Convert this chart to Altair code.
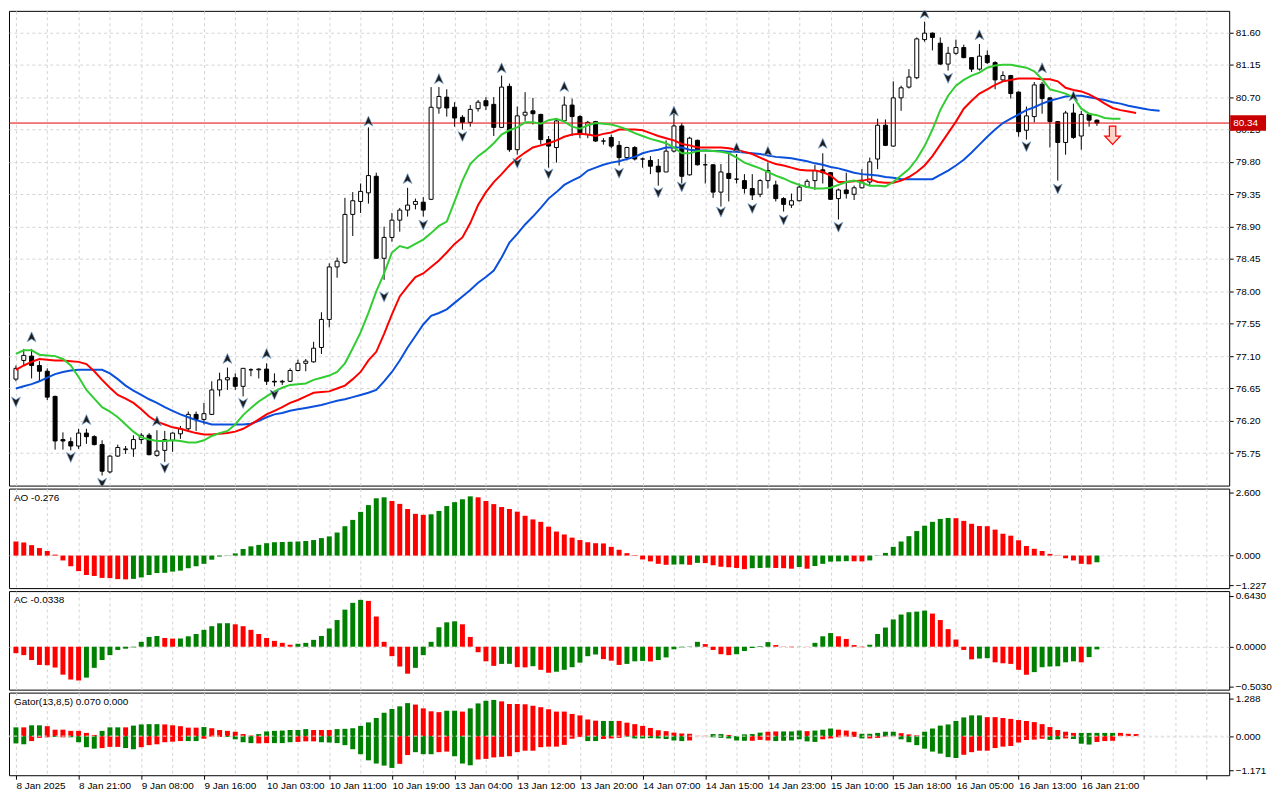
import json
import altair as alt
import pandas as pd

# hourly candles, bar 0 = 8 Jan 2025 13:00
OPEN = [76.78, 77.04, 77.10, 76.97, 76.89, 76.54, 75.94, 75.91, 75.85, 76.03,
        75.98, 75.87, 75.49, 75.71, 75.80, 75.81, 75.94, 76.00, 75.72, 75.79,
        75.93, 76.02, 76.09, 76.29, 76.22, 76.29, 76.63, 76.77, 76.80, 76.68,
        76.91, 76.91, 76.92, 76.75, 76.74, 76.75, 76.90, 77.00, 77.02, 77.22,
        77.61, 78.34, 78.40, 79.07, 79.25, 79.37, 79.60, 78.46, 78.75, 78.99,
        79.13, 79.21, 79.24, 79.28, 80.55, 80.70, 80.56, 80.42, 80.35, 80.54,
        80.65, 80.60, 80.28, 80.85, 79.97, 80.45, 80.51, 80.46, 80.11, 80.00,
        80.37, 80.59, 80.43, 80.18, 80.36, 80.09, 80.14, 80.03, 79.86, 80.00,
        79.84, 79.82, 79.74, 79.66, 79.95, 80.30, 79.62, 80.10, 79.76, 79.76,
        79.38, 79.64, 79.56, 79.54, 79.43, 79.35, 79.54, 79.48, 79.29, 79.20,
        79.26, 79.45, 79.54, 79.69, 79.65, 79.29, 79.41, 79.35, 79.44, 79.52,
        79.84, 80.31, 80.02, 80.69, 80.84, 80.97, 81.50, 81.59, 81.45, 81.16,
        81.31, 81.39, 81.25, 81.09, 81.28, 81.18, 80.94, 81.00, 80.77, 80.24,
        80.43, 80.88, 80.69, 80.36, 80.07, 80.48, 80.16, 80.46, 80.38]
HIGH = [76.97, 77.20, 77.20, 77.03, 76.93, 76.55, 76.04, 75.97, 76.09, 76.09,
        76.00, 75.93, 75.72, 75.87, 75.85, 76.00, 76.03, 76.03, 76.07, 76.06,
        76.04, 76.13, 76.33, 76.33, 76.45, 76.75, 76.87, 76.94, 76.86, 76.93,
        76.93, 76.93, 77.00, 76.86, 76.77, 76.93, 77.05, 77.06, 77.30, 77.71,
        78.39, 78.47, 79.30, 79.38, 79.50, 80.28, 79.65, 78.90, 79.09, 79.16,
        79.44, 79.29, 79.31, 80.84, 80.84, 80.81, 80.63, 80.45, 80.59, 80.66,
        80.70, 80.70, 81.00, 80.89, 80.57, 80.77, 80.69, 80.47, 80.16, 80.40,
        80.71, 80.68, 80.45, 80.37, 80.37, 80.13, 80.18, 80.09, 80.01, 80.02,
        79.86, 79.88, 79.84, 80.10, 80.47, 80.34, 80.15, 80.11, 79.91, 79.77,
        79.77, 79.92, 79.91, 79.63, 79.63, 79.56, 79.79, 79.54, 79.31, 79.36,
        79.50, 79.56, 79.76, 79.92, 79.66, 79.43, 79.65, 79.47, 79.70, 79.86,
        80.40, 80.39, 80.92, 80.86, 81.09, 81.53, 81.75, 81.60, 81.53, 81.40,
        81.50, 81.43, 81.25, 81.44, 81.35, 81.20, 81.06, 81.01, 80.78, 80.57,
        80.91, 80.91, 80.70, 80.36, 80.51, 80.61, 80.51, 80.47, 80.39]
LOW = [76.75, 76.97, 76.79, 76.75, 76.49, 75.80, 75.80, 75.79, 75.81, 75.88,
       75.86, 75.44, 75.47, 75.70, 75.74, 75.70, 75.88, 75.72, 75.70, 75.63,
       75.77, 75.95, 76.06, 76.06, 76.15, 76.28, 76.54, 76.63, 76.63, 76.54,
       76.82, 76.79, 76.70, 76.68, 76.70, 76.74, 76.89, 76.89, 77.01, 77.13,
       77.50, 78.19, 78.38, 78.77, 79.09, 79.22, 78.45, 78.16, 78.69, 78.83,
       79.04, 79.14, 79.04, 79.27, 80.47, 80.43, 80.29, 80.25, 80.29, 80.50,
       80.52, 80.16, 80.27, 79.94, 79.90, 80.37, 80.32, 80.04, 79.72, 79.79,
       80.37, 80.16, 80.13, 80.13, 80.08, 80.04, 79.99, 79.75, 79.82, 79.82,
       79.72, 79.63, 79.47, 79.66, 79.93, 79.50, 79.61, 79.75, 79.50, 79.30,
       79.18, 79.25, 79.50, 79.36, 79.27, 79.31, 79.43, 79.25, 79.11, 79.16,
       79.25, 79.44, 79.41, 79.50, 79.27, 79.00, 79.29, 79.27, 79.43, 79.47,
       79.70, 80.02, 80.01, 80.51, 80.82, 80.95, 81.47, 81.35, 81.15, 81.07,
       81.29, 81.24, 81.05, 81.07, 81.16, 80.81, 80.92, 80.68, 80.15, 80.11,
       80.35, 80.47, 80.00, 79.54, 79.90, 80.12, 79.97, 80.29, 80.30]
CLOSE = [76.93, 77.11, 76.97, 76.89, 76.53, 75.92, 75.92, 75.85, 76.03, 75.98,
         75.87, 75.50, 75.71, 75.83, 75.81, 75.94, 76.00, 75.73, 75.78, 75.94,
         76.03, 76.09, 76.29, 76.22, 76.30, 76.63, 76.77, 76.80, 76.68, 76.93,
         76.91, 76.92, 76.75, 76.74, 76.75, 76.90, 77.00, 77.03, 77.21, 77.61,
         78.34, 78.42, 79.07, 79.26, 79.39, 79.61, 78.46, 78.75, 78.99, 79.13,
         79.20, 79.25, 79.13, 80.56, 80.71, 80.55, 80.41, 80.35, 80.53, 80.63,
         80.58, 80.28, 80.84, 79.97, 80.44, 80.49, 80.47, 80.11, 80.02, 80.37,
         80.59, 80.43, 80.18, 80.35, 80.09, 80.09, 80.02, 79.86, 80.00, 79.84,
         79.84, 79.74, 79.66, 79.95, 80.30, 79.60, 80.13, 79.76, 79.76, 79.38,
         79.66, 79.57, 79.56, 79.43, 79.34, 79.54, 79.68, 79.29, 79.21, 79.26,
         79.45, 79.53, 79.68, 79.65, 79.28, 79.41, 79.36, 79.44, 79.52, 79.80,
         80.31, 80.03, 80.69, 80.83, 80.98, 81.51, 81.59, 81.53, 81.16, 81.31,
         81.39, 81.25, 81.09, 81.27, 81.18, 80.94, 81.00, 80.75, 80.22, 80.44,
         80.87, 80.68, 80.36, 80.07, 80.48, 80.14, 80.46, 80.38, 80.34]

# alligator lines (already shifted forward)
LIPS = [77.13, 77.18, 77.18, 77.12, 77.11, 77.10, 77.06, 76.97, 76.81, 76.63,
        76.51, 76.39, 76.33, 76.25, 76.15, 76.05, 75.97, 75.94, 75.92, 75.92,
        75.93, 75.92, 75.90, 75.90, 75.93, 75.99, 76.03, 76.06, 76.15, 76.28,
        76.38, 76.47, 76.54, 76.61, 76.66, 76.70, 76.71, 76.72, 76.77, 76.80,
        76.83, 76.88, 77.00, 77.21, 77.43, 77.70, 78.00, 78.25, 78.54, 78.63,
        78.60, 78.66, 78.72, 78.81, 78.91, 78.97, 79.25, 79.54, 79.77, 79.88,
        79.96, 80.06, 80.18, 80.24, 80.28, 80.35, 80.35, 80.33, 80.38, 80.40,
        80.36, 80.29, 80.26, 80.31, 80.34, 80.33, 80.32, 80.29, 80.25, 80.20,
        80.16, 80.12, 80.09, 80.06, 80.00, 79.92, 79.92, 79.95, 79.96, 79.95,
        79.94, 79.92, 79.86, 79.79, 79.75, 79.71, 79.66, 79.61, 79.57, 79.52,
        79.48, 79.45, 79.43, 79.43, 79.44, 79.48, 79.52, 79.54, 79.51, 79.47,
        79.47, 79.46, 79.52, 79.61, 79.70, 79.84, 80.02, 80.25, 80.52, 80.72,
        80.86, 80.94, 81.00, 81.04, 81.11, 81.14, 81.15, 81.15, 81.13, 81.11,
        81.06, 80.95, 80.81, 80.78, 80.75, 80.70, 80.54, 80.47, 80.45, 80.41,
        80.40, 80.40]
TEETH = [76.91, 76.97, 77.02, 77.06, 77.05, 77.04, 77.04, 77.03, 77.02, 76.99,
         76.89, 76.77, 76.66, 76.56, 76.51, 76.45, 76.36, 76.26, 76.19, 76.15,
         76.11, 76.09, 76.06, 76.03, 76.01, 76.01, 76.02, 76.03, 76.05, 76.09,
         76.15, 76.22, 76.29, 76.34, 76.39, 76.45, 76.49, 76.54, 76.59, 76.60,
         76.61, 76.65, 76.69, 76.78, 76.88, 77.04, 77.16, 77.41, 77.68, 77.93,
         78.07, 78.20, 78.25, 78.34, 78.43, 78.54, 78.66, 78.75, 78.95, 79.20,
         79.38, 79.52, 79.63, 79.75, 79.85, 79.93, 80.00, 80.03, 80.06, 80.10,
         80.15, 80.18, 80.19, 80.18, 80.16, 80.19, 80.21, 80.25, 80.25, 80.25,
         80.24, 80.20, 80.16, 80.13, 80.10, 80.05, 80.03, 80.00, 80.00, 80.00,
         80.00, 79.99, 79.97, 79.94, 79.91, 79.86, 79.81, 79.77, 79.75, 79.72,
         79.69, 79.68, 79.68, 79.66, 79.61, 79.52, 79.52, 79.53, 79.54, 79.56,
         79.52, 79.51, 79.51, 79.54, 79.59, 79.66, 79.75, 79.88, 80.04, 80.20,
         80.36, 80.54, 80.65, 80.75, 80.81, 80.87, 80.92, 80.94, 80.96, 80.96,
         80.96, 80.95, 80.95, 80.92, 80.83, 80.80, 80.78, 80.74, 80.68, 80.61,
         80.55, 80.52, 80.50, 80.48]
JAW = [76.65, 76.68, 76.71, 76.75, 76.80, 76.85, 76.88, 76.90, 76.91, 76.91,
       76.91, 76.91, 76.86, 76.78, 76.69, 76.62, 76.56, 76.50, 76.45, 76.39,
       76.34, 76.29, 76.25, 76.21, 76.18, 76.15, 76.15, 76.15, 76.15, 76.15,
       76.16, 76.20, 76.25, 76.29, 76.31, 76.34, 76.36, 76.38, 76.40, 76.42,
       76.45, 76.48, 76.50, 76.53, 76.56, 76.59, 76.63, 76.75, 76.88, 77.04,
       77.22, 77.38, 77.54, 77.66, 77.70, 77.75, 77.84, 77.93, 78.02, 78.12,
       78.20, 78.29, 78.47, 78.68, 78.80, 78.93, 79.04, 79.16, 79.29, 79.38,
       79.48, 79.54, 79.59, 79.68, 79.72, 79.76, 79.79, 79.81, 79.84, 79.87,
       79.92, 79.95, 79.97, 80.00, 80.00, 80.00, 79.97, 79.96, 79.96, 79.95,
       79.95, 79.94, 79.94, 79.93, 79.92, 79.91, 79.89, 79.87, 79.86, 79.85,
       79.83, 79.81, 79.78, 79.76, 79.73, 79.71, 79.68, 79.65, 79.63, 79.62,
       79.61, 79.59, 79.58, 79.56, 79.56, 79.56, 79.56, 79.56, 79.62, 79.68,
       79.75, 79.83, 79.93, 80.04, 80.15, 80.25, 80.34, 80.40, 80.46, 80.52,
       80.56, 80.61, 80.65, 80.68, 80.71, 80.72, 80.72, 80.70, 80.68, 80.66,
       80.63, 80.61, 80.58, 80.56, 80.54, 80.52, 80.51]

FRACTAL_UP_BAR = [2, 9, 18, 27, 32, 45, 50, 54, 62, 70, 84, 92, 96, 103, 116, 123, 131, 135]
FRACTAL_UP_PRICE = [77.36, 76.21, 76.19, 77.06, 77.13, 80.36, 79.56, 80.95, 81.10, 80.84,
                    80.50, 79.99, 79.94, 80.05, 81.86, 81.56, 81.10, 80.71]
FRACTAL_DN_BAR = [0, 7, 11, 19, 29, 33, 47, 52, 57, 64, 68, 77, 82, 85, 90, 94, 98, 105, 119, 129, 133]
FRACTAL_DN_PRICE = [76.47, 75.70, 75.34, 75.55, 76.45, 76.57, 77.93, 78.93, 80.16, 79.79, 79.64,
                    79.65, 79.38, 79.46, 79.11, 79.16, 79.00, 78.90, 80.97, 80.02, 79.43]
SIGNAL_BAR = 140
SIGNAL_PRICE = 80.17
LAST_PRICE = 80.34

# Awesome Oscillator, colour per bar: g = up, r = down
AO = [0.58, 0.54, 0.43, 0.31, 0.19, 0.04, -0.20, -0.44, -0.64, -0.80, -0.84, -0.92, -0.93, -0.97, -0.98,
      -0.96, -0.90, -0.80, -0.72, -0.71, -0.66, -0.62, -0.52, -0.44, -0.34, -0.17, -0.04, 0.01, 0.09, 0.27,
      0.38, 0.44, 0.51, 0.55, 0.56, 0.57, 0.58, 0.60, 0.64, 0.72, 0.79, 0.95, 1.21, 1.47, 1.80,
      2.08, 2.36, 2.40, 2.25, 2.13, 1.92, 1.72, 1.68, 1.70, 1.84, 2.04, 2.20, 2.32, 2.44,
      2.40, 2.25, 2.12, 2.00, 1.92, 1.81, 1.64, 1.49, 1.39, 1.19, 0.99, 0.87, 0.74, 0.64, 0.55, 0.51,
      0.50, 0.36, 0.24, 0.10, 0.02,
      -0.16, -0.24, -0.34, -0.38, -0.37, -0.36, -0.38, -0.30, -0.31, -0.40, -0.46, -0.48, -0.51, -0.56,
      -0.52, -0.51, -0.50, -0.51, -0.52, -0.54, -0.47, -0.54, -0.43, -0.34, -0.25, -0.24, -0.23, -0.235,
      -0.24, -0.20,
      -0.01, 0.11, 0.36, 0.58, 0.80, 1.01, 1.23, 1.39, 1.51, 1.55, 1.54, 1.43, 1.31, 1.22, 1.21,
      1.07, 0.90, 0.82, 0.63, 0.39, 0.28, 0.19, 0.07, 0.01, -0.11, -0.20, -0.34, -0.36, -0.276]
AO_COL = ("r" * 15 + "g" * 30 + "ggg" + "rrrrr" + "g" * 6 + "r" * 25 + "ggrgr" + "rrrrr"
          + "ggg" + "rrr" + "gr" + "ggggg" + "rr" + "g" * 11 + "r" * 18 + "g")

# Accelerator Oscillator
AC = [-0.082, -0.107, -0.169, -0.231, -0.235, -0.264, -0.354, -0.416, -0.428, -0.392,
      -0.268, -0.169, -0.107, -0.041, -0.025, -0.008, 0.062, 0.124, 0.136,
      0.111, 0.103, 0.104, 0.132, 0.161, 0.214, 0.260, 0.297, 0.298, 0.284, 0.260,
      0.214, 0.161, 0.111, 0.074, 0.049, 0.025,
      0.037, 0.049, 0.087, 0.136, 0.231, 0.338, 0.470, 0.556, 0.594, 0.581, 0.383,
      0.062, -0.120, -0.251, -0.342, -0.268, -0.107, 0.062, 0.247, 0.309, 0.322,
      0.284, 0.124, -0.070, -0.185, -0.243, -0.218, -0.217, -0.260, -0.262, -0.247,
      -0.293, -0.330, -0.317, -0.293, -0.260, -0.202, -0.120, -0.099, -0.157, -0.177, -0.231,
      -0.218, -0.185, -0.180, -0.187, -0.169, -0.136, -0.033, -0.008, 0.004, 0.062,
      0.033, -0.041, -0.095, -0.107, -0.095, -0.054, -0.016, 0.008, 0.058, 0.021,
      0.003, -0.006, 0.002, -0.002, 0.049, 0.132, 0.173, 0.132, 0.099, 0.021,
      -0.006, 0.025, 0.161, 0.243, 0.346, 0.408, 0.437, 0.445, 0.458, 0.420,
      0.338, 0.223, 0.091, -0.041, -0.160, -0.150, -0.145, -0.198, -0.210, -0.218,
      -0.293, -0.354, -0.322, -0.260, -0.251, -0.248, -0.198, -0.185, -0.198, -0.132,
      -0.0338]
AC_COL = ("r" * 9 + "g" * 10 + "rr" + "g" * 7 + "r" * 8 + "g" * 9 + "r" * 6 + "g" * 6
          + "r" * 5 + "gg" + "rr" + "g" + "rr" + "g" * 6 + "rrr"
          + "gggrgggggg" + "rrrrgggggr" + "rrgrgggrrr" + "rggggggggr" + "rrrrrggrrr"
          + "rrggggggrg" + "g")

# Gator oscillator: upper |jaw - teeth|, lower -|teeth - lips|
GATOR_UP = [0.30, 0.30, 0.37, 0.37, 0.34, 0.22, 0.22, 0.18, 0.18, 0.11,
            0.04, 0.18, 0.30, 0.30, 0.30, 0.36, 0.40, 0.41, 0.41, 0.40,
            0.37, 0.34, 0.29, 0.29, 0.31, 0.27, 0.21, 0.18, 0.15, 0.07,
            0.02, 0.07, 0.16, 0.18, 0.19, 0.21, 0.21, 0.24, 0.21, 0.21,
            0.21, 0.24, 0.25, 0.27, 0.35, 0.47, 0.62, 0.80, 0.93, 1.02,
            1.13, 1.08, 0.95, 0.85, 0.82, 0.87, 0.87, 0.84, 0.95, 1.12,
            1.21, 1.24, 1.19, 1.10, 1.10, 1.09, 1.04, 0.99, 0.92, 0.84,
            0.84, 0.76, 0.71, 0.57, 0.53, 0.52, 0.52, 0.52,
            0.46, 0.41, 0.35, 0.28, 0.20, 0.17, 0.12, 0.09, 0.08, 0.01,
            0.01, 0.07, 0.07, 0.04, 0.00, 0.06, 0.07, 0.12, 0.15, 0.16,
            0.16, 0.16, 0.19, 0.17, 0.19, 0.22, 0.26, 0.22, 0.19, 0.15,
            0.08, 0.08, 0.11, 0.15, 0.15, 0.10, 0.06, 0.03, 0.15, 0.26,
            0.36, 0.40, 0.52, 0.64, 0.71, 0.71, 0.65, 0.65, 0.62, 0.59,
            0.55, 0.52, 0.48, 0.41, 0.31, 0.21, 0.15, 0.11, 0.11, 0.11,
            0.11, 0.11, 0.11, 0.11, 0.08, 0.07]
GATOR_UP_COL = ("grggrrrrrr" "rgggrggggr" "rrrrgrrrrr" "rgggggggrr" "rggggggggg"
                "grrrrggrgg" "ggrrrrrrrr" "rrrrrggr"
                "rrrrrrrrrr" "rggrrgggrr" "gggrgggrrr" "gggggrrrgg" "ggggggrrrr"
                "rrrrrrrrgg" "gggrrr")
GATOR_DN = [-0.25, -0.28, -0.17, -0.06, -0.04, -0.03, -0.04, -0.04, -0.21, -0.38,
            -0.43, -0.41, -0.37, -0.37, -0.41, -0.45, -0.38, -0.31, -0.28, -0.21,
            -0.19, -0.17, -0.17, -0.17, -0.09, -0.02, -0.03, -0.03, -0.11, -0.21,
            -0.24, -0.25, -0.24, -0.24, -0.24, -0.21, -0.20, -0.18, -0.18, -0.21,
            -0.22, -0.24, -0.31, -0.45, -0.62, -0.83, -0.94, -1.01, -1.09, -0.95,
            -0.65, -0.55, -0.62, -0.62, -0.55, -0.53, -0.69, -0.94, -1.00, -0.80,
            -0.78, -0.73, -0.71, -0.69, -0.55, -0.50, -0.50, -0.38, -0.36, -0.36,
            -0.30, -0.09, -0.03, -0.17, -0.17, -0.10, -0.08, -0.06,
            -0.02, -0.08, -0.08, -0.07, -0.08, -0.10, -0.15, -0.17, -0.15, 0.00,
            0.00, -0.04, -0.06, -0.08, -0.15, -0.16, -0.16, -0.13, -0.15, -0.17,
            -0.16, -0.15, -0.11, -0.18, -0.20, -0.11, -0.08, -0.04, -0.02, -0.03,
            -0.08, -0.08, -0.06, -0.02, -0.01, -0.11, -0.21, -0.31, -0.43, -0.53,
            -0.60, -0.72, -0.75, -0.64, -0.55, -0.50, -0.50, -0.41, -0.36, -0.34,
            -0.22, -0.13, -0.12, -0.09, -0.13, -0.11, -0.08, -0.10, -0.26, -0.29,
            -0.20, -0.17, -0.16, 0.00]
GATOR_DN_COL = ("ggrrrgrggg" "grrrggrrrr" "rrggrrrggg" "grrgggrrrg" "gggggggggr"
                "rgggrrgggr" "rrrrrrrrrr" "rrrggrrr"
                "ggggggggrr" "rgggggrrrg" "gggggrrrrr" "grrrrggggg" "gggrrrrrrr"
                "rrrrggrggg" "rrrr")

PRICE_TICKS = [81.60, 81.15, 80.70, 80.25, 79.80, 79.35, 78.90, 78.45, 78.00,
               77.55, 77.10, 76.65, 76.20, 75.75]
TIME_LABELS = ["8 Jan 2025", "8 Jan 21:00", "9 Jan 08:00", "9 Jan 16:00", "10 Jan 03:00",
               "10 Jan 11:00", "10 Jan 19:00", "13 Jan 04:00", "13 Jan 12:00", "13 Jan 20:00",
               "14 Jan 07:00", "14 Jan 15:00", "14 Jan 23:00", "15 Jan 10:00", "15 Jan 18:00",
               "16 Jan 05:00", "16 Jan 13:00", "16 Jan 21:00"]

W = 1226
FONT = "Liberation Sans"
GRID = "#d4d4d4"
xs = alt.Scale(domain=[-0.25, 154.25], nice=False, zero=False)
grid_idx = list(range(0, 156, 4))


def x_axis(labels=False):
    if not labels:
        return alt.Axis(values=grid_idx, grid=True, gridColor=GRID, gridDash=[3, 3],
                        domain=False, ticks=False, labels=False, title=None)
    expr = (f"datum.value % 8 === 0 && datum.value / 8 < {len(TIME_LABELS)} ? "
            f"{json.dumps(TIME_LABELS)}[datum.value / 8] : ''")
    return alt.Axis(values=grid_idx, grid=True, gridColor=GRID, gridDash=[3, 3],
                    domain=False, ticks=True, tickColor="black", tickSize=4,
                    tickOpacity={"condition": {"test": "datum.value % 8 === 0", "value": 1}, "value": 0},
                    labelExpr=expr, labelAlign="left", labelPadding=1, labelOverlap=False,
                    labelFlush=False, labelBound=False, title=None)


# ---- price panel ----
ys = alt.Scale(domain=[75.30, 81.90], nice=False, zero=False)
price_axis = alt.Axis(orient="right", values=PRICE_TICKS, format=".2f", grid=True, gridColor=GRID,
                      gridDash=[3, 3], domain=False, tickColor="black", tickSize=4,
                      labelPadding=2, title=None)
X = alt.X("i:Q", scale=xs, axis=x_axis())


def Y(f):
    return alt.Y(f, scale=ys, axis=price_axis)


candles = pd.DataFrame({"i": range(len(OPEN)), "open": OPEN, "high": HIGH, "low": LOW, "close": CLOSE})
last = alt.Chart(pd.DataFrame({"p": [LAST_PRICE]}))

wicks = alt.Chart(candles).mark_rule(color="black", strokeWidth=1).encode(x=X, y=Y("low:Q"), y2="high:Q")
bodies = alt.Chart(candles).mark_bar(size=4, stroke="black", strokeWidth=1).encode(
    x=X, y=Y("open:Q"), y2="close:Q",
    fill=alt.condition("datum.close > datum.open", alt.value("white"), alt.value("black")))
price_line = last.mark_rule(color="#e00000", stroke="#e00000", strokeWidth=1, opacity=1).encode(y=Y("p:Q"))


def line(values, color):
    df = pd.DataFrame({"i": range(len(values)), "v": values})
    return alt.Chart(df).mark_line(color=color, strokeWidth=2, clip=True).encode(x=X, y=Y("v:Q"))


UP_PATH = "M0,-1L0.8,0.8L0,0.3L-0.8,0.8Z"
DN_PATH = "M0,1L0.8,-0.8L0,-0.3L-0.8,-0.8Z"
frac_up = alt.Chart(pd.DataFrame({"i": FRACTAL_UP_BAR, "p": FRACTAL_UP_PRICE})).mark_point(
    shape=UP_PATH, filled=True, fill="#1e1e1e", stroke="#7fa9d8", strokeWidth=0.7, size=125,
    opacity=1, clip=True).encode(x=X, y=Y("p:Q"))
frac_dn = alt.Chart(pd.DataFrame({"i": FRACTAL_DN_BAR, "p": FRACTAL_DN_PRICE})).mark_point(
    shape=DN_PATH, filled=True, fill="#1e1e1e", stroke="#7fa9d8", strokeWidth=0.7, size=125,
    opacity=1, clip=True).encode(x=X, y=Y("p:Q"))
signal = alt.Chart(pd.DataFrame({"i": [SIGNAL_BAR], "p": [SIGNAL_PRICE]})).mark_point(
    shape="M-0.35,-1L0.35,-1L0.35,0.1L0.85,0.1L0,1L-0.85,0.1L-0.35,0.1Z",
    filled=True, fill="#ffd2c8", stroke="#ff0000", strokeWidth=1.2, size=340, opacity=1
).encode(x=X, y=Y("p:Q"))
price_box = last.mark_point(shape="M-1,-0.4L1,-0.4L1,0.4L-1,0.4Z", filled=True, fill="#c80000",
                            stroke="#c80000", size=34 * 34, opacity=1).encode(
    x=alt.value(W + 19), y=Y("p:Q"))
price_text = last.mark_text(align="left", baseline="middle", color="white", font=FONT, fontSize=10).encode(
    x=alt.value(W + 4), y=Y("p:Q"), text=alt.Text("p:Q", format=".2f"))

main = alt.layer(
    wicks, bodies, price_line,
    line(JAW, "#0a50dc"), line(TEETH, "#ff0000"), line(LIPS, "#32cd32"),
    frac_up, frac_dn, signal, price_box, price_text
).properties(width=W, height=477)


# ---- oscillator panels ----
def panel(series, domain, ticks, fmt, title, height, labels=False, zero_line=False):
    frames = [pd.DataFrame({"i": range(len(v)), "v": v, "c": list(c)}) for v, c in series]
    df = pd.concat(frames, ignore_index=True)
    ya = alt.Axis(orient="right", values=ticks, format=fmt, grid=True, gridColor=GRID, gridDash=[3, 3],
                  gridOpacity={"condition": {"test": "datum.value === 0", "value": 1}, "value": 0},
                  domain=False, tickColor="black", tickSize=4, labelPadding=2, title=None)
    yscale = alt.Scale(domain=domain, nice=False, zero=False)
    xe = alt.X("i:Q", scale=xs, axis=x_axis(labels))
    bars = alt.Chart(df).mark_bar(size=5).encode(
        x=xe, y=alt.Y("v:Q", scale=yscale, axis=ya), y2=alt.datum(0),
        color=alt.Color("c:N", scale=alt.Scale(domain=["g", "r"], range=["#008000", "#ff0000"]), legend=None))
    layers = [bars]
    if zero_line:
        layers.append(alt.Chart(pd.DataFrame({"z": [0]})).mark_rule(
            color="#e6e6e6", strokeDash=[3, 3], strokeWidth=1).encode(
            y=alt.Y("z:Q", scale=yscale, axis=ya)))
    layers.append(alt.Chart(pd.DataFrame({"t": [title]})).mark_text(
        align="left", baseline="top", font=FONT, fontSize=10, color="black").encode(
        x=alt.value(5), y=alt.value(4), text="t:N"))
    return alt.layer(*layers).properties(width=W, height=height)


ao = panel([(AO, AO_COL)], [-1.34, 2.76], [-1.227, 0, 2.6], ".3f", f"AO {AO[-1]:.3f}", 100)
ac = panel([(AC, AC_COL)], [-0.544, 0.705], [-0.503, 0, 0.643], ".4f", f"AC {AC[-1]:.4f}", 99)
gator = panel([(GATOR_UP, GATOR_UP_COL), (GATOR_DN, GATOR_DN_COL)], [-1.34, 1.49],
              [-1.171, 0, 1.288], ".3f",
              f"Gator(13,8,5) {GATOR_UP[-1]:.3f} {abs(GATOR_DN[-1]):.3f}", 83,
              labels=True, zero_line=True)

chart = alt.vconcat(main, ao, ac, gator, spacing=3, bounds="flush").properties(
    padding=0, background="white"
).configure_view(stroke="black", strokeWidth=1).configure_axis(
    labelFont=FONT, labelFontSize=10, labelColor="black")

chart.save("out.html", embed_options={"renderer": "svg", "actions": False})
